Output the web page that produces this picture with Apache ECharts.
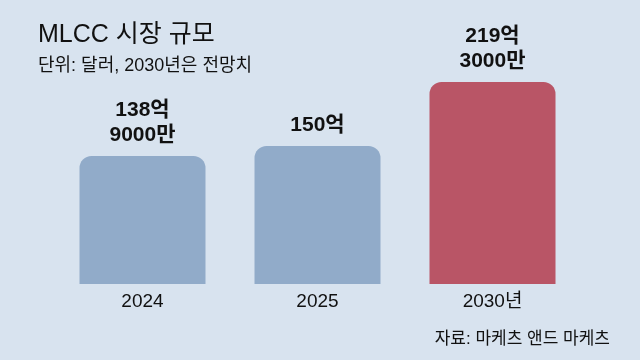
<!DOCTYPE html>
<html><head><meta charset="utf-8">
<script src="https://cdn.jsdelivr.net/npm/echarts@6/dist/echarts.min.js"></script>
<style>html,body{margin:0;padding:0;background:#d8e3ef}#c{width:640px;height:360px}</style>
</head><body><div id="c"></div>
<script>
const categories = ['2024', '2025', '2030년'];
const values = [138.9, 150, 219.3];
const valueLabels = ['138억\n9000만', '150억', '219억\n3000만'];
const barColors = ['#91abc9', '#91abc9', '#b95566'];

const REG = '"Liberation Sans", "Noto Sans CJK KR", sans-serif';
const chart = echarts.init(document.getElementById('c'));
chart.setOption({
  backgroundColor: '#d8e3ef',
  animation: false,
  title: [
    { text: 'MLCC 시장 규모', left: 33, top: 18, textStyle: { fontFamily: REG, fontSize: 25, fontWeight: 'normal', color: '#111' } },
    { text: '단위: 달러, 2030년은 전망치', left: 33, top: 52, textStyle: { fontFamily: REG, fontSize: 18, fontWeight: 'normal', color: '#111' } },
    { text: '자료: 마케츠 앤드 마케츠', right: 25, top: 326, textStyle: { fontFamily: REG, fontSize: 17, fontWeight: 'normal', color: '#111' } }
  ],
  grid: { left: 55, right: 60, top: 63, bottom: 76 },
  xAxis: {
    type: 'category', data: categories,
    axisLine: { show: false }, axisTick: { show: false },
    axisLabel: { fontFamily: REG, fontSize: 19, color: '#111', margin: 8 }
  },
  yAxis: { type: 'value', min: 0, max: 240, show: false, splitLine: { show: false } },
  series: [{
    type: 'bar', barWidth: 126,
    data: values.map((v, i) => ({ value: v, itemStyle: { color: barColors[i] } })),
    itemStyle: { borderRadius: [12, 12, 0, 0] },
    label: {
      show: true, position: 'top', distance: 8,
      fontFamily: REG, fontSize: 21, fontWeight: 'bold', color: '#111', lineHeight: 25,
      formatter: p => valueLabels[p.dataIndex]
    }
  }]
});
</script></body></html>
